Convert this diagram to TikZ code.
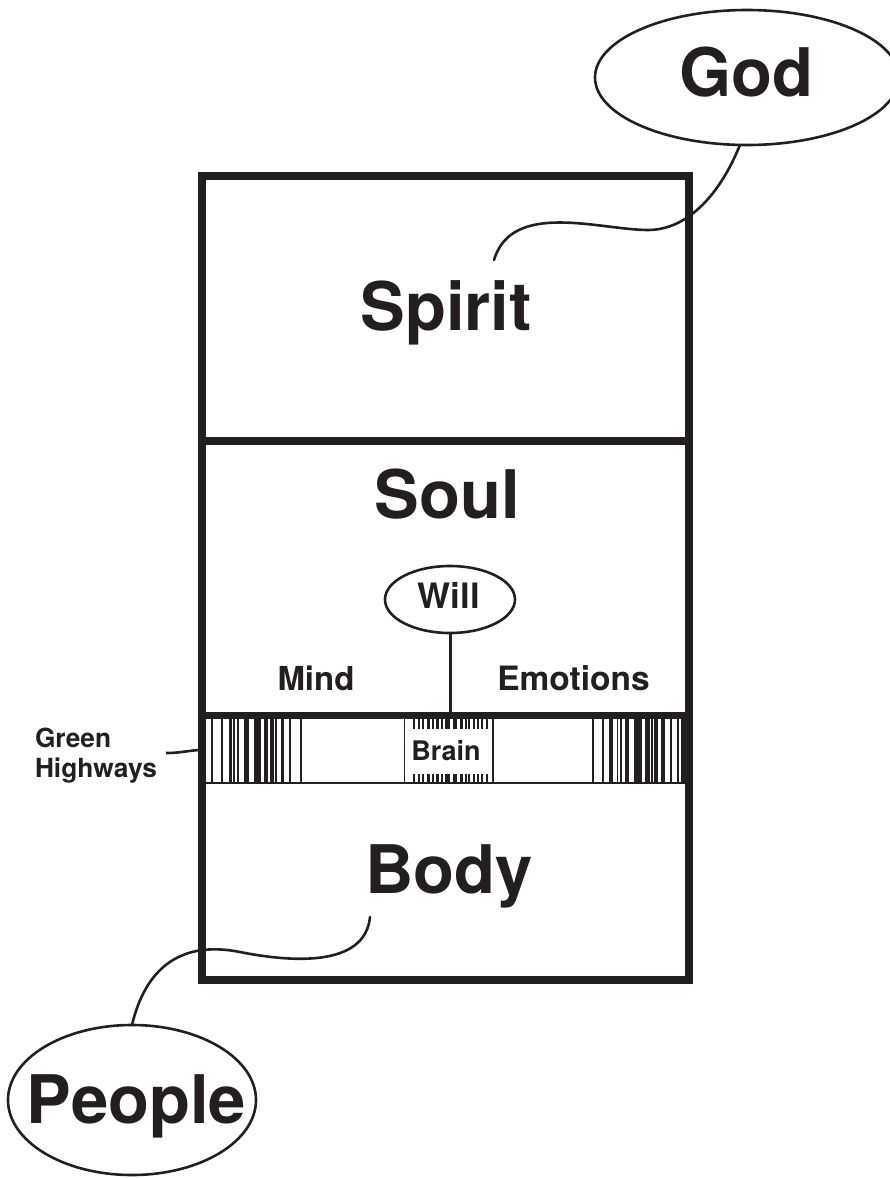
\documentclass[tikz,border=0pt]{standalone}
\usepackage{fontspec}
\setmainfont{TeX Gyre Heros}
\usetikzlibrary{shapes.geometric}
\definecolor{ink}{HTML}{231F20}
\newcommand\myfs[1]{\fontsize{#1}{#1}\selectfont\bfseries}
\begin{document}
\begin{tikzpicture}[x=1pt,y=-1pt,
  lbl/.style={inner sep=0, outer sep=0, text=ink, anchor=base},
  oval/.style={ellipse, draw=ink, line width=2.6, inner sep=0, outer sep=0},
  link/.style={draw=ink, line width=2.6, line cap=round},
  thick box/.style={draw=ink, line width=8, line join=miter, inner sep=0, outer sep=0},
  bar/.style={fill=ink}]
\useasboundingbox (0,0) rectangle (890,1178);

% barcode bars of the green highways band
\foreach \x/\w in {211.7/1.8,222/1.8,230.7/3.5,234/1.6,238.3/2.2,246.8/5,257.3/6.7,266.2/4.3,271/1.5,273.2/1.5,275.8/1.6,282.7/3.5,290/1.8,300.7/1.8,
  593.3/1.8,602.7/1.8,611.3/4,617.5/1.8,620.8/1.8,627.2/4.3,637.8/7.7,647.5/5,651.7/1.6,654.7/1.6,657.2/1.5,663/4,670.8/1.9,678/1.9,681.7/1.6,684/1.6}
  \fill[bar] (\x-\w/2,719) rectangle (\x+\w/2,783);
\foreach \x/\w in {414.3/1.8,419.3/1.8,423.3/1.9,428.3/3.2,432.7/1.8,437.7/3.5,442.3/1.9,447.3/5,454.7/4,461.3/3.2,465.7/1.8,469/1.8,474/2.2,478.3/1.8,481.7/1.8,486.7/1.8}
  {\fill[bar] (\x-\w/2,719) rectangle (\x+\w/2,729);
   \fill[bar] (\x-\w/2,774) rectangle (\x+\w/2,783);}

% outer box
\node[thick box, minimum width=487.3, minimum height=803.7] (box) at (445.35,577.85) {};
\coordinate (div) at (0,440.5);
\coordinate (bandtop) at (0,715.7);
\coordinate (bandbot) at (0,783);
\draw[ink, line width=8] (box.west |- div) -- (box.east |- div);
\draw[ink, line width=7] (box.west |- bandtop) -- (box.east |- bandtop);
\draw[ink, line width=1.6] (box.west |- bandbot) -- (box.east |- bandbot);
% brain box sides
\coordinate (brl) at (404.3,0);
\coordinate (brr) at (492.7,0);
\draw[ink, line width=1.6] (brl |- bandtop) -- (brl |- bandbot);
\draw[ink, line width=1.6] (brr |- bandtop) -- (brr |- bandbot);

% labels
\node[lbl] (spirit) at (446,330) {\myfs{67}Spirit};
\node[lbl] (soul) at (447.5,518) {\myfs{67}Soul};
\node[lbl] (body) at (449,893) {\myfs{67}Body};
\node[lbl] (mind) at (316,690) {\myfs{33}Mind};
\node[lbl] (emotions) at (573.5,690) {\myfs{33.5}Emotions};
\node[lbl] (brain) at (446,760.7) {\myfs{27}Brain};
\node[lbl, anchor=base west] (green) at (35,747) {\myfs{26.3}Green};
\node[lbl, anchor=base west] (highways) at (35,777) {\myfs{26.3}Highways};

% will
\node[oval, minimum width=130, minimum height=67] (will) at (450,599.5) {};
\node[lbl] (willtxt) at (449,608.3) {\myfs{35}Will};
\draw[ink, line width=3] (will.south) -- (will.south |- bandtop);

% god
\node[oval, minimum width=304, minimum height=135] (god) at (747,77.5) {};
\node[lbl] (godtxt) at (746,96.7) {\myfs{67}God};
\coordinate (g1) at (494,260);
\draw[link] (g1) .. controls (512,200) and (600,230) .. (648,230)
  .. controls (690,230) and (722,190) .. (god.264);

% people
\node[oval, minimum width=248, minimum height=150] (people) at (132,1100) {};
\node[lbl] (peopletxt) at (136.5,1123) {\myfs{67}People};
\coordinate (p1) at (370,917);
\draw[link] (p1) .. controls (365,968) and (290,962) .. (240,952)
  .. controls (200,944) and (150,950) .. (people.north);

% green highways pointer
\coordinate (gh) at (166,753);
\coordinate (ghend) at (202,750);
\draw[link, line cap=butt] (gh) .. controls (182,753) and (190,750) .. (ghend);
\end{tikzpicture}
\end{document}
